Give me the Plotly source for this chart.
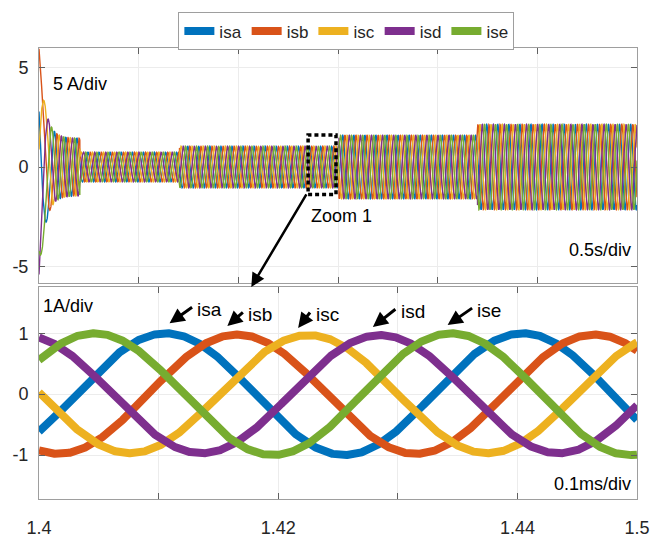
import numpy as np
import plotly.graph_objects as go

# ---------------- data ----------------
phase_names = ["isa", "isb", "isc", "isd", "ise"]
phase_colors = ["#0072BD", "#D95319", "#EDB120", "#7E2F8E", "#77AC30"]
phase_step_deg = 72.0

# top panel (0 .. 3 s, 0.5 s/div): amplitude envelope steps
top_seg_start_s = [0.0, 0.205, 0.705, 1.505, 2.20]
top_seg_amp_A = [1.45, 0.75, 1.05, 1.60, 2.15]
top_transient_amp_A = 4.6
top_transient_tau_s = 0.03
top_freq_start_hz = 6.0
top_freq_steady_hz = 18.0
top_freq_ramp_end_s = 0.10
top_phase0_deg = 62.0
top_t_range = [0.0, 3.0]

# bottom panel (zoomed window)
bot_t_range = [1.40, 1.50]
bot_period = 0.0597
bot_isa_peak_t = 1.4212
bot_amp_A = [1.00, 0.98, 0.97, 0.97, 1.00]

# zoom box in the top panel
zoom_box_t = [1.35, 1.49]
zoom_box_i = [-1.38, 1.62]

# bottom x tick labels as printed
bot_tick_vals = [1.40, 1.44, 1.48, 1.50]
bot_tick_text = ["1.4", "1.42", "1.44", "1.5"]

# label annotations in bottom panel: arrow head (t, i) and text (t, i)
lab_head_t = [1.42183, 1.43150, 1.44333, 1.45583, 1.46833]
lab_head_i = [1.165, 1.118, 1.087, 1.102, 1.134]
lab_text_t = [1.42850, 1.43700, 1.44817, 1.46250, 1.47533]
lab_text_i = [1.386, 1.307, 1.307, 1.354, 1.370]

# ---------------- build waveforms ----------------
t_top = np.linspace(top_t_range[0], top_t_range[1], 15001)
dt = t_top[1] - t_top[0]
seg_idx = np.searchsorted(np.array(top_seg_start_s), t_top, side="right") - 1
env = np.array(top_seg_amp_A)[seg_idx] + top_transient_amp_A * np.exp(-t_top / top_transient_tau_s)
freq = np.where(t_top < top_freq_ramp_end_s,
                top_freq_start_hz + (top_freq_steady_hz - top_freq_start_hz) * t_top / top_freq_ramp_end_s,
                top_freq_steady_hz)
theta = 2 * np.pi * np.cumsum(freq) * dt

t_bot = np.linspace(bot_t_range[0], bot_t_range[1], 1501)

FONT = "Liberation Sans, Arial, sans-serif"
fig = go.Figure()

for k, (name, col) in enumerate(zip(phase_names, phase_colors)):
    y = env * np.cos(theta - np.deg2rad(k * phase_step_deg) + np.deg2rad(top_phase0_deg))
    fig.add_trace(go.Scatter(x=t_top, y=y, mode="lines", name=name,
                             line=dict(color=col, width=1.4),
                             showlegend=False, xaxis="x", yaxis="y", hoverinfo="skip"))

for k, (name, col) in enumerate(zip(phase_names, phase_colors)):
    y = bot_amp_A[k] * np.cos(2 * np.pi * (t_bot - bot_isa_peak_t) / bot_period
                              - np.deg2rad(k * phase_step_deg))
    fig.add_trace(go.Scatter(x=t_bot, y=y, mode="lines", name=name,
                             line=dict(color=col, width=8),
                             showlegend=True, xaxis="x2", yaxis="y2", hoverinfo="skip"))

# ---------------- layout ----------------
L, R, T, B = 37, 27, 44, 36
H = 550 - T - B
top_dom = [(514 - 289) / H, 1.0]
bot_dom = [0.0, (514 - 293) / H]

axis_common = dict(showline=True, linecolor="#9e9e9e", linewidth=1, mirror="ticks",
                   ticks="inside", ticklen=6, tickcolor="#606060", tickwidth=1,
                   showgrid=True, gridcolor="#ececec", gridwidth=1, zeroline=False,
                   tickfont=dict(family=FONT, size=18, color="#262626"))

fig.update_layout(
    width=664, height=550,
    margin=dict(l=L, r=R, t=T, b=B),
    paper_bgcolor="white", plot_bgcolor="white",
    font=dict(family=FONT, color="#262626"),
    xaxis=dict(axis_common, domain=[0, 1], anchor="y", range=top_t_range,
               tickvals=[0.5, 1.0, 1.5, 2.0, 2.5], showticklabels=False),
    yaxis=dict(axis_common, domain=top_dom, anchor="x", range=[-5.85, 6.0],
               tickvals=[-5, 0, 5], ticktext=["-5", "0", "5"], ticklabelstandoff=6),
    xaxis2=dict(axis_common, domain=[0, 1], anchor="y2", range=bot_t_range,
                tickvals=bot_tick_vals, ticktext=bot_tick_text, ticklabelstandoff=12,
                minor=dict(tick0=1.40, dtick=0.02, ticks="inside", ticklen=6,
                           tickcolor="#606060", showgrid=True, gridcolor="#ececec")),
    yaxis2=dict(axis_common, domain=bot_dom, anchor="x2", range=[-1.72, 1.76],
                tickvals=[-1, 0, 1], ticktext=["-1", "0", "1"], ticklabelstandoff=6),
    legend=dict(orientation="h", x=0.514, xanchor="center", y=(514 - 7) / H, yanchor="top",
                bordercolor="#9e9e9e", borderwidth=1, bgcolor="white",
                font=dict(family=FONT, size=17, color="#262626"),
                itemwidth=30, tracegroupgap=0),
    showlegend=True,
)

# zoom box
fig.add_shape(type="rect", xref="x", yref="y",
              x0=zoom_box_t[0], x1=zoom_box_t[1], y0=zoom_box_i[0], y1=zoom_box_i[1],
              line=dict(color="black", width=3.5, dash="4px,3px"))

ann = []
ann.append(dict(text="5 A/div", xref="x domain", yref="y domain", x=0.02, y=0.845,
                xanchor="left", yanchor="middle", showarrow=False,
                font=dict(family=FONT, size=18, color="black")))
ann.append(dict(text="0.5s/div", xref="x domain", yref="y domain", x=0.993, y=0.139,
                xanchor="right", yanchor="middle", showarrow=False,
                font=dict(family=FONT, size=18, color="black")))
ann.append(dict(text="Zoom 1", xref="x domain", yref="y domain", x=0.452, y=0.286,
                xanchor="left", yanchor="middle", showarrow=False,
                font=dict(family=FONT, size=18, color="black")))
ann.append(dict(text="1A/div", xref="x2 domain", yref="y2 domain", x=0.004, y=0.909,
                xanchor="left", yanchor="middle", showarrow=False,
                font=dict(family=FONT, size=18, color="black")))
ann.append(dict(text="0.1ms/div", xref="x2 domain", yref="y2 domain", x=0.993, y=0.072,
                xanchor="right", yanchor="middle", showarrow=False,
                font=dict(family=FONT, size=18, color="black")))
# connector arrow from zoom box to bottom panel
ann.append(dict(text="", xref="paper", yref="paper", x=(250 - L) / 600, y=(514 - 293) / H,
                showarrow=True, ax=56, ay=-94, arrowhead=2, arrowsize=1.1, arrowwidth=2.5,
                arrowcolor="black", standoff=0))
# phase labels
for k, name in enumerate(phase_names):
    px_head_x = L + (lab_head_t[k] - bot_t_range[0]) / (bot_t_range[1] - bot_t_range[0]) * 600
    px_text_x = L + (lab_text_t[k] - bot_t_range[0]) / (bot_t_range[1] - bot_t_range[0]) * 600
    dx = px_text_x - 16 - px_head_x
    dy = -(lab_text_i[k] - lab_head_i[k]) * 63.5 - 3
    ann.append(dict(text="", xref="x2", yref="y2", x=lab_head_t[k], y=lab_head_i[k],
                    showarrow=True, ax=dx, ay=dy, arrowhead=2, arrowsize=1.0, arrowwidth=3,
                    arrowcolor="black", standoff=0))
    ann.append(dict(text=name, xref="x2", yref="y2", x=lab_text_t[k], y=lab_text_i[k],
                    showarrow=False, xanchor="center", yanchor="middle",
                    font=dict(family=FONT, size=19, color="black")))
fig.update_layout(annotations=ann)

fig.write_html("out.html")
